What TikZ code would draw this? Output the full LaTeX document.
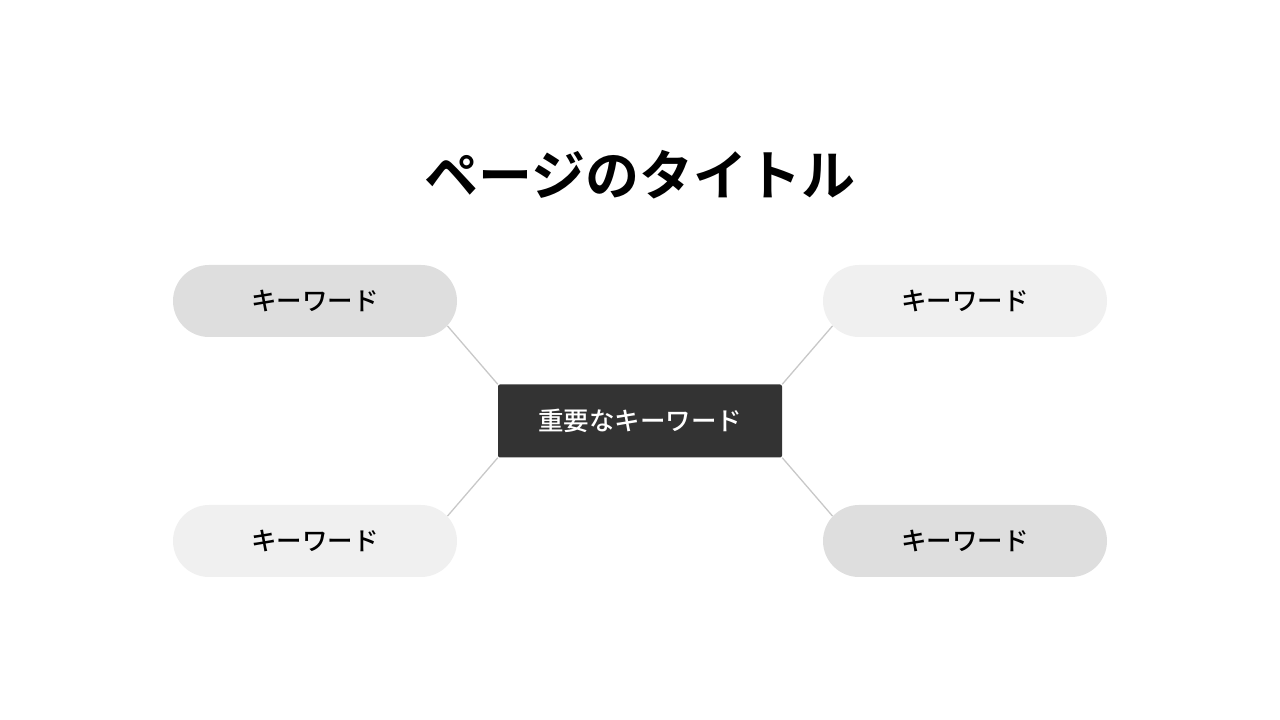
\documentclass[tikz,border=0pt]{standalone}
\usepackage{fontspec}
\setmainfont{Noto Sans CJK JP Medium}[BoldFont={Noto Sans CJK JP Bold}]
\usetikzlibrary{positioning,backgrounds}
\definecolor{pilldark}{HTML}{DEDEDE}
\definecolor{pilllight}{HTML}{F0F0F0}
\definecolor{keybox}{HTML}{333333}
\definecolor{linkgray}{HTML}{C8C8C8}

\begin{document}
\begin{tikzpicture}[x=1pt,y=1pt,node distance=120pt and 325pt,on grid,
  pill/.style={minimum width=284pt,minimum height=72pt,rounded corners=36pt,inner sep=0pt,
    font=\fontsize{25.5}{30}\selectfont},
  mainkey/.style={fill=keybox,text=white,minimum width=284pt,minimum height=73pt,
    rounded corners=2pt,inner sep=0pt,font=\fontsize{25.5}{30}\selectfont},
  link/.style={draw=linkgray,line width=1.3pt,shorten >=-15pt}]
\useasboundingbox (0,0) rectangle (1280,720);
\node (title) at (640,545) {\fontsize{54}{62}\selectfont\bfseries ページのタイトル};
\node[mainkey] (key) at (640,299) {重要なキーワード};
\node[pill,fill=pilldark] (kw_tl) [above left=of key] {キーワード};
\node[pill,fill=pilllight] (kw_tr) [above right=of key] {キーワード};
\node[pill,fill=pilllight] (kw_bl) [below left=of key] {キーワード};
\node[pill,fill=pilldark] (kw_br) [below right=of key] {キーワード};
\begin{scope}[on background layer]
\path[link]
(key.north west) edge (kw_tl.south east)
(key.north east) edge (kw_tr.south west)
(key.south west) edge (kw_bl.north east)
(key.south east) edge (kw_br.north west);
\end{scope}
\end{tikzpicture}
\end{document}
